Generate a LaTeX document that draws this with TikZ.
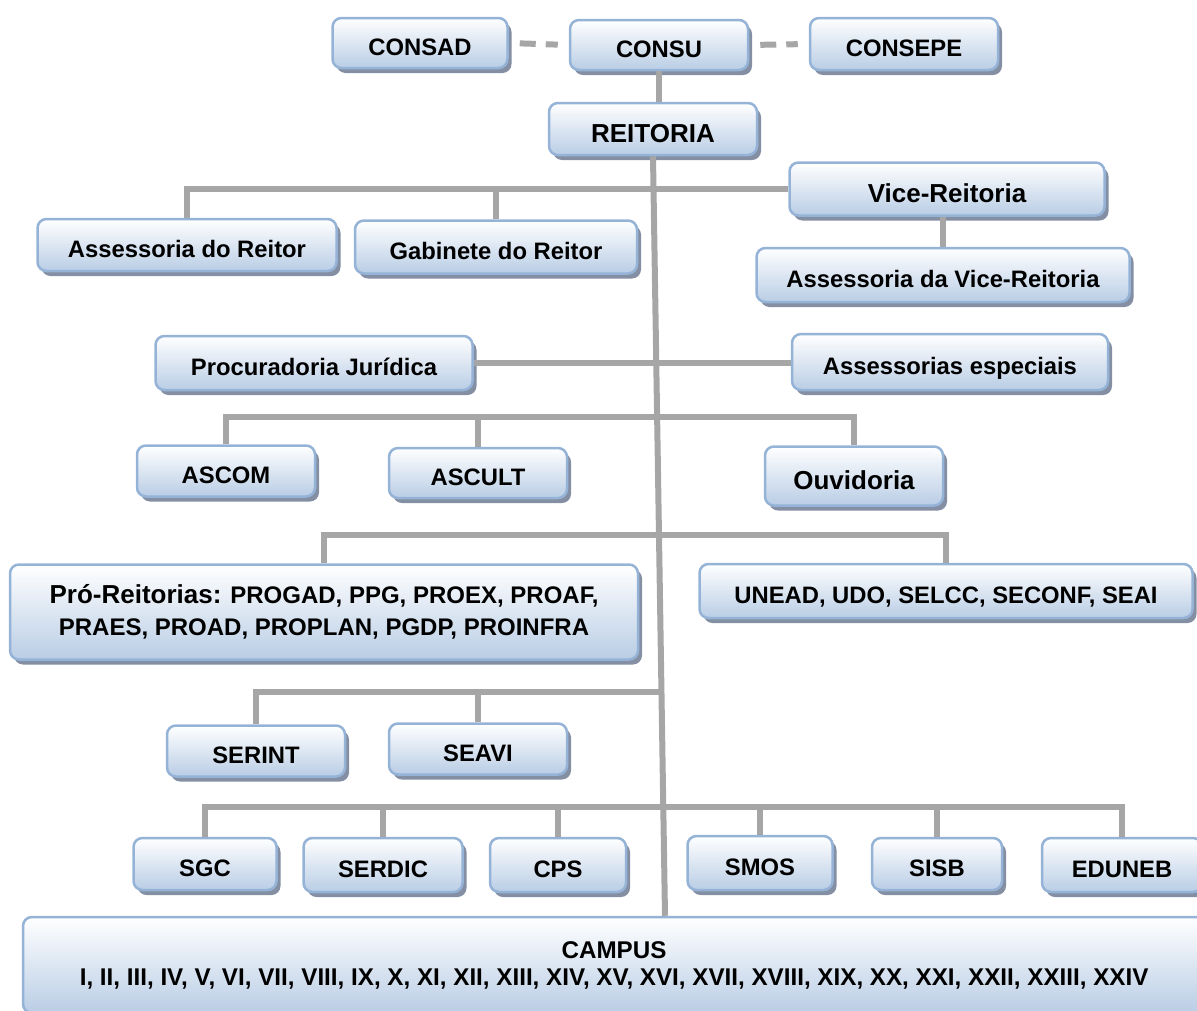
\documentclass[tikz,border=0pt]{standalone}
\usepackage{fontspec}
\setmainfont{Liberation Sans}
\usetikzlibrary{shadows,calc}
\definecolor{boxline}{RGB}{149,179,215}
\definecolor{boxfill}{RGB}{185,205,229}
\definecolor{boxshadow}{RGB}{132,143,163}
\definecolor{linkgray}{RGB}{166,166,166}

\begin{document}
\begin{tikzpicture}[x=1pt, y=-1pt,
	unit/.style={draw=boxline, line width=2.5pt, rounded corners=9pt, top color=white, bottom color=boxfill,
		drop shadow={shadow xshift=4pt, shadow yshift=-5pt, fill=boxshadow, opacity=1},
		inner sep=0pt, align=center, text height=25pt, text depth=1pt,
		font=\bfseries\fontsize{23.8}{28}\selectfont},
	big/.style={text height=27.5pt, font=\bfseries\fontsize{26}{30}\selectfont},
	multi/.style={text height={}, text depth={}},
	link/.style={linkgray, line width=6pt},
	dlink/.style={link, dash pattern=on 16pt off 10pt, shorten <=11pt, shorten >=11pt}]
	\useasboundingbox (0,0) rectangle (1197,1010);
	%%
	\node[unit, minimum width=175pt, minimum height=50pt] (consad) at (420,43) {CONSAD};
	\node[unit, minimum width=178pt, minimum height=50pt] (consu) at (659,45) {CONSU};
	\node[unit, minimum width=188pt, minimum height=52pt] (consepe) at (904,44) {CONSEPE};
	\node[unit, big, minimum width=208pt, minimum height=52pt] (reit) at (653,129) {REITORIA};
	%%
	\node[unit, big, minimum width=315pt, minimum height=53pt] (vice) at (947,189) {Vice-Reitoria};
	\node[unit, minimum width=373pt, minimum height=54pt] (assvice) at (943,275) {Assessoria da Vice-Reitoria};
	\node[unit, minimum width=299pt, minimum height=52pt] (assreit) at (187,245) {Assessoria do Reitor};
	\node[unit, minimum width=282pt, minimum height=53pt] (gab) at (496,247) {Gabinete do Reitor};
	%%
	\node[unit, minimum width=317pt, minimum height=54pt] (proc) at (314,363) {Procuradoria Jurídica};
	\node[unit, minimum width=316pt, minimum height=56pt] (assesp) at (950,362) {Assessorias especiais};
	%%
	\node[unit, minimum width=178pt, minimum height=51pt] (ascom) at (226,471) {ASCOM};
	\node[unit, minimum width=178pt, minimum height=50pt] (ascult) at (478,473) {ASCULT};
	\node[unit, big, minimum width=178pt, minimum height=59pt] (ouv) at (854,476) {Ouvidoria};
	%%
	\node[unit, multi, minimum width=628pt, minimum height=95pt, font=\bfseries\fontsize{24}{32}\selectfont] (pro) at (324,612)
		{{\fontsize{26}{32}\selectfont Pró-Reitorias:} PROGAD, PPG, PROEX, PROAF,\\ PRAES, PROAD, PROPLAN, PGDP, PROINFRA};
	\node[unit, minimum width=493pt, minimum height=54pt] (unead) at (946,591) {UNEAD, UDO, SELCC, SECONF, SEAI};
	%%
	\node[unit, minimum width=178pt, minimum height=51pt] (serint) at (256,751) {SERINT};
	\node[unit, minimum width=178pt, minimum height=51pt] (seavi) at (478,749) {SEAVI};
	%%
	\node[unit, minimum width=143pt, minimum height=52pt] (sgc) at (205,864) {SGC};
	\node[unit, minimum width=159pt, minimum height=54pt] (serdic) at (383,865) {SERDIC};
	\node[unit, minimum width=136pt, minimum height=54pt] (cps) at (558,865) {CPS};
	\node[unit, minimum width=145pt, minimum height=54pt] (smos) at (760,863) {SMOS};
	\node[unit, minimum width=130pt, minimum height=52pt] (sisb) at (937,864) {SISB};
	\node[unit, minimum width=160pt, minimum height=54pt] (eduneb) at (1122,865) {EDUNEB};
	%%
	\node[unit, multi, minimum width=1182pt, minimum height=96pt, font=\bfseries\fontsize{24.2}{27}\selectfont] (campus) at (614,965)
		{CAMPUS\\ I, II, III, IV, V, VI, VII, VIII, IX, X, XI, XII, XIII, XIV, XV, XVI, XVII, XVIII, XIX, XX, XXI, XXII, XXIII, XXIV};
	%%
	\coordinate (ttop) at (reit.south);
	\coordinate (tbot) at ($(campus.north)+(51,0)$);
	\coordinate (bar2) at (0,417);
	\coordinate (bar3) at (0,535);
	\coordinate (bar4) at ($(ttop)!0.705!(tbot)$);
	\coordinate (bar5) at (0,807);
	%%
	\draw[dlink] (consad.east) -- (consu.west);
	\draw[dlink] (consu.east) -- (consepe.west);
	\draw[link] (consu.south) -- (consu.south |- reit.north);
	\draw[link] (ttop) -- (tbot);
	%%
	\draw[link] (assreit.north) |- (vice.west);
	\draw[link] (gab.north) -- (gab.north |- vice.west);
	\draw[link] (assvice.north) -- (assvice.north |- vice.south);
	\draw[link] (proc.east) -- (proc.east -| assesp.west);
	%%
	\draw[link] (ascom.north) |- (ouv.north |- bar2) -- (ouv.north);
	\draw[link] (ascult.north) -- (ascult.north |- bar2);
	\draw[link] (pro.north) |- (unead.north |- bar3) -- (unead.north);
	\draw[link] (serint.north) |- (bar4);
	\draw[link] (seavi.north) -- (seavi.north |- bar4);
	%%
	\draw[link] (sgc.north) |- (eduneb.north |- bar5) -- (eduneb.north);
	\foreach \u in {serdic,cps,smos,sisb}
		\draw[link] (\u.north) -- (\u.north |- bar5);
\end{tikzpicture}
\end{document}
